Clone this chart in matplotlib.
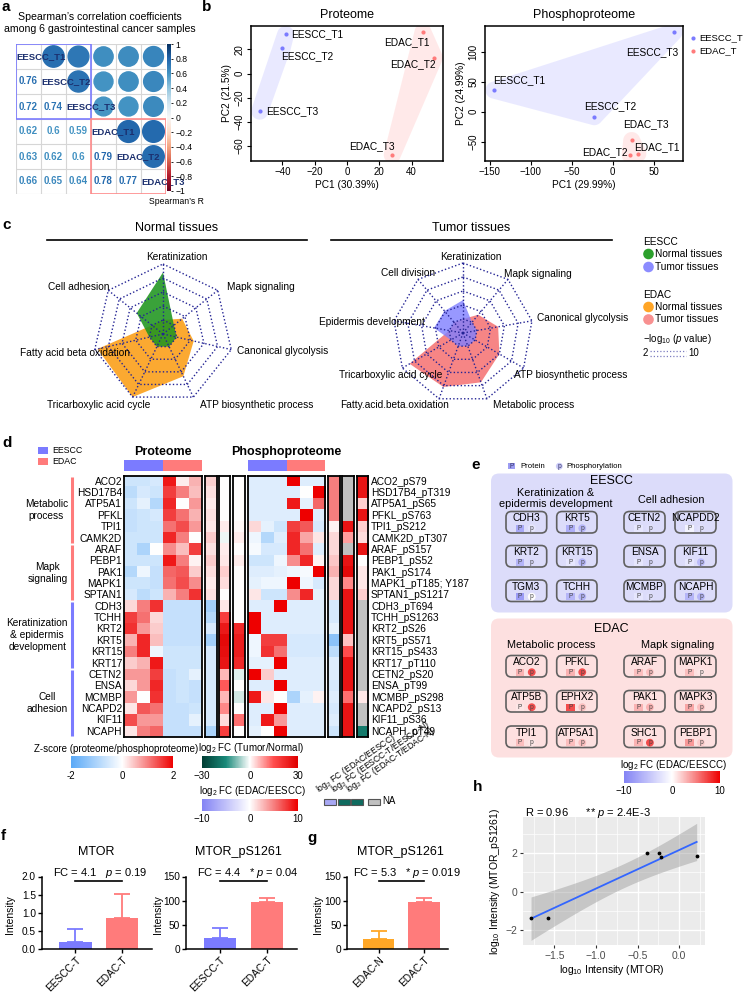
import numpy as np
import matplotlib
matplotlib.use("Agg")
import matplotlib.pyplot as plt
from matplotlib.colors import LinearSegmentedColormap, Normalize
from matplotlib.patches import Rectangle, Circle, Ellipse, Polygon, FancyBboxPatch
from matplotlib.colorbar import ColorbarBase
from matplotlib.ticker import FuncFormatter

plt.rcParams["font.family"] = ["Liberation Sans", "DejaVu Sans"]
plt.rcParams["mathtext.fontset"] = "custom"
plt.rcParams["mathtext.rm"] = "Liberation Sans"
plt.rcParams["mathtext.it"] = "Liberation Sans:italic"
plt.rcParams["mathtext.bf"] = "Liberation Sans:bold"

# ======================= DATA =======================
# --- a: Spearman correlations
samples = ["EESCC_T1", "EESCC_T2", "EESCC_T3", "EDAC_T1", "EDAC_T2", "EDAC_T3"]
corr_lower = [[0.76], [0.72, 0.74], [0.62, 0.6, 0.59],
              [0.63, 0.62, 0.6, 0.79], [0.66, 0.65, 0.64, 0.78, 0.77]]
cbar_ticks_a = [1, 0.8, 0.6, 0.4, 0.2, 0, -0.2, -0.4, -0.6, -0.8, -1]

# --- b: PCA
pca_labels = ["EESCC_T1", "EESCC_T2", "EESCC_T3", "EDAC_T1", "EDAC_T2", "EDAC_T3"]
pca_group = ["EESCC_T", "EESCC_T", "EESCC_T", "EDAC_T", "EDAC_T", "EDAC_T"]
prot_pc1 = [-38, -40, -54, 47, 54, 28]
prot_pc2 = [32.4, 21.4, -31.2, 34.3, 13.2, -67.4]
phos_pc1 = [-145, -22.4, 75, 30.8, 21.4, 23.3]
phos_pc2 = [36.2, -8.4, 133.5, -70.6, -72.4, -48.3]

# --- c: radar (-log10 p)
normal_axes = ["Keratinization", "Mapk signaling", "Canonical glycolysis",
               "ATP biosynthetic process", "Tricarboxylic acid cycle",
               "Fatty acid beta oxidation", "Cell adhesion"]
normal_eescc = [8.8, 2, 2, 2, 2, 2, 4.8]
normal_edac = [2, 3.5, 4.5, 6.7, 10, 9.6, 2]
tumor_axes = ["Keratinization", "Mapk signaling", "Canonical glycolysis",
              "ATP biosynthetic process", "Metabolic process",
              "Fatty.acid.beta.oxidation", "Tricarboxylic acid cycle",
              "Epidermis development", "Cell division"]
tumor_eescc = [4.7, 2, 2, 2, 2, 2, 2, 4.2, 4.1]
tumor_edac = [2, 3.4, 5.1, 6.0, 7.5, 8.2, 8.8, 2, 2]

# --- d: heatmap
prot_genes = ["ACO2", "HSD17B4", "ATP5A1", "PFKL", "TPI1", "CAMK2D", "ARAF", "PEBP1",
              "PAK1", "MAPK1", "SPTAN1", "CDH3", "TCHH", "KRT2", "KRT5", "KRT15", "KRT17",
              "CETN2", "ENSA", "MCMBP", "NCAPD2", "KIF11", "NCAPH"]
phos_sites = ["ACO2_pS79", "HSD17B4_pT319", "ATP5A1_pS65", "PFKL_pS763", "TPI1_pS212",
              "CAMK2D_pT307", "ARAF_pS157", "PEBP1_pS52", "PAK1_pS174", "MAPK1_pT185; Y187",
              "SPTAN1_pS1217", "CDH3_pT694", "TCHH_pS1263", "KRT2_pS26", "KRT5_pS571",
              "KRT15_pS433", "KRT17_pT110", "CETN2_pS20", "ENSA_pT99", "MCMBP_pS298",
              "NCAPD2_pS13", "KIF11_pS36", "NCAPH_pT49"]
gene_groups = [("Metabolic\nprocess", 0, 6, "EDAC"), ("Mapk\nsignaling", 6, 11, "EDAC"),
               ("Keratinization\n& epidermis\ndevelopment", 11, 17, "EESCC"),
               ("Cell\nadhesion", 17, 23, "EESCC")]
prot_z = [
    [-0.6, -0.6, -0.5, 1.8, 0.15, 0.6],
    [-0.8, -0.5, -0.6, 1.5, 1.0, 0.5],
    [-0.6, -0.3, -0.9, 1.7, 0.0, 0.8],
    [-0.7, -0.6, -0.5, 1.5, 1.1, 0.6],
    [-0.7, -0.6, -0.6, 1.1, 1.4, 0.8],
    [-0.6, -0.6, -0.6, 1.7, 1.0, 0.0],
    [-0.6, -1.0, 0.0, 0.9, 0.5, 1.5],
    [-0.6, -0.6, -0.6, 1.8, 1.0, 0.1],
    [-0.9, -0.2, -0.7, 1.2, 1.3, 0.4],
    [-0.6, -0.6, -0.7, 1.1, 1.4, 0.9],
    [-0.5, -0.8, -0.6, 0.6, 1.0, 1.6],
    [0.3, 1.0, 1.6, -0.7, -0.7, -0.7],
    [1.5, 1.1, 0.3, -0.7, -0.7, -0.7],
    [1.6, 0.8, 0.4, -0.7, -0.7, -0.7],
    [0.6, 1.7, 0.5, -0.7, -0.7, -0.7],
    [1.0, 1.7, -0.2, -0.6, -0.6, -0.6],
    [0.4, 0.6, 1.8, -0.6, -0.6, -0.6],
    [0.8, 0.8, 1.5, -0.7, -0.6, -0.3],
    [0.3, 0.8, 1.7, -0.7, -0.6, -0.7],
    [0.8, 0.0, 1.6, -0.7, -0.6, -0.7],
    [0.2, 1.3, 1.1, -0.7, -0.7, -0.6],
    [1.4, 0.8, 0.8, -0.7, -0.7, -0.3],
    [0.2, 1.0, 1.2, -0.7, -0.7, -0.7]]
phos_z = [
    [-0.4, -0.4, -0.4, 2.0, -0.4, -0.4],
    [-0.4, -0.4, -0.4, -0.4, 0.0, 2.0],
    [-0.4, -0.4, -0.4, 1.8, -0.3, 1.2],
    [-0.4, -0.4, -0.4, -0.4, 2.0, -0.4],
    [0.3, -0.3, -0.6, 1.5, 1.3, -0.5],
    [-0.2, -0.9, -0.4, 1.7, 0.7, 0.2],
    [-0.1, -0.5, -0.5, 1.7, 1.1, -0.4],
    [-0.6, -0.6, -0.2, 0.9, 1.7, 0.1],
    [-0.4, -0.4, -0.3, -0.2, -0.1, 2.0],
    [-0.3, -0.2, -0.2, 2.0, -0.2, -0.5],
    [0.2, -0.6, -0.6, 0.9, 1.7, -0.3],
    [-0.4, -0.4, 2.0, -0.4, -0.4, -0.4],
    [2.0, -0.4, -0.4, -0.4, -0.4, -0.4],
    [2.0, -0.4, -0.4, -0.4, -0.4, -0.4],
    [-0.2, 1.5, 1.5, -0.5, -0.5, -0.5],
    [-0.2, 1.6, 1.1, -0.5, -0.5, -0.5],
    [-0.3, -0.3, 2.0, -0.4, -0.4, -0.4],
    [2.0, 0.4, -0.4, -0.4, -0.4, -0.4],
    [-0.4, -0.4, 2.0, -0.4, -0.4, -0.4],
    [1.8, 0.2, 0.0, -1.0, -0.3, 0.1],
    [-0.4, -0.4, 2.0, -0.4, -0.4, -0.4],
    [-0.4, 1.8, 0.8, -0.4, -0.4, -0.4],
    [-0.3, 0.0, 2.0, -0.4, -0.4, -0.4]]
nan = float("nan")
prot_fc_edac_eescc = [1.8, 1.2, 0.8, 1.2, 1.0, 2.0, 1.2, 2.0, 1.3, 0.8, 1.2,
                      -5.5, -4.5, -2.5, -5.5, -2.5, -2.5, -2.5, -2.5, -2.5, -2.5, -2.5, -5.0]
prot_fc_eescc_tn = [0, 0, 0, 0, 1.5, -1, 1.5, 2, 4, 3, 0, 2, 18, 25, 28, 27, 26,
                    6, 14, 6, 10, 3, 18]
prot_fc_edac_tn = [0, 0, 0, 0, 0.5, 1.5, 0, 1.5, 0, 0, 0, 0, 0, 22, 24, 24, 22,
                   -2, 0, -3, 0, 12, 0]
phos_fc_edac_eescc = [5, 5, 5, 5, 0.5, 1.5, 1.5, 2.2, 3, 1.5, 1.5,
                      -2.5, -2.5, -1.5, -7, -4, -2, -2, -2.5, -2, -2.5, -2, -3]
phos_fc_eescc_tn = [nan, nan, nan, nan, 26, 8, nan, 26, 28, 10, 26, 26, 26, 26,
                    5, 15, 26, 26, 26, 12, 26, 26, 26]
phos_fc_edac_tn = [26, 26, 4, 26, 4, 3, 26, 0, 2, 2, 4, nan, nan, nan, nan, nan,
                   nan, nan, nan, 2, nan, nan, -18]

# --- e: summary boxes (log2 FC EDAC/EESCC for protein / phosphorylation)
eescc_genes = [["CDH3", "KRT5", "CETN2", "NCAPDD2"], ["KRT2", "KRT15", "ENSA", "KIF11"],
               ["TGM3", "TCHH", "MCMBP", "NCAPH"]]
eescc_prot = [[-7, -6.5, -2, -1], [-6, -2, -2, -2], [-8, -6, -2, -6]]
eescc_phos = [[-2, -6, -2.5, -2.5], [-3, -6, -3, -5.5], [0, -6, -2.5, -6]]
edac_genes = [["ACO2", "PFKL", "ARAF", "MAPK1"], ["ATP5B", "EPHX2", "PAK1", "MAPK3"],
              ["TPI1", "ATP5A1", "SHC1", "PEBP1"]]
edac_prot = [[3, 3, 2.5, 2.5], [1, 7, 3, 3.5], [2.5, 2.5, 3, 4]]
edac_phos = [[7, 7, 2.5, 1], [7, 2.5, 3, 2.5], [1, 2.5, 7, 2]]

# --- f, g: bar charts
bar_cats_f = ["EESCC-T", "EDAC-T"]
mtor_mean = [0.21, 0.87]
mtor_err = [0.34, 0.66]
ps_f_mean = [22.7, 97]
ps_f_err = [20.7, 8]
bar_cats_g = ["EDAC-N", "EDAC-T"]
ps_g_mean = [20.8, 97]
ps_g_err = [15.9, 8]

# --- h: correlation
mtor_log10 = [-1.78, -1.58, -0.39, -0.24, -0.22, 0.21]
ps_log10 = [-1.37, -1.37, 2.03, 2.03, 1.79, 1.85]

# ======================= STYLE =======================
C_EESCC = "#7b7bff"
C_EDAC = "#ff7b7b"
C_NAVY = "#1b2f6e"
W, H = 751, 993
fig = plt.figure(figsize=(W / 100, H / 100), dpi=100)


def add_ax(x0, y0, x1, y1, **kw):
    return fig.add_axes([x0 / W, 1 - y1 / H, (x1 - x0) / W, (y1 - y0) / H], **kw)


ov = add_ax(0, 0, W, H)
ov.set_xlim(0, W)
ov.set_ylim(H, 0)
ov.axis("off")
ov.set_zorder(20)


def T(x, y, s, **kw):
    kw.setdefault("fontsize", 7.3)
    kw.setdefault("ha", "center")
    kw.setdefault("va", "center")
    return ov.text(x, y, s, **kw)


def umin(v, fmt="{:g}"):
    return fmt.format(v).replace("-", "\u2212")


# panel letters
for s, x, y in [("a", 1, 7), ("b", 202, 7), ("c", 2, 225), ("d", 2, 443),
                ("e", 471, 465), ("f", 1, 836), ("g", 307, 838), ("h", 473, 787)]:
    T(x, y, s, fontsize=11, fontweight="bold", ha="left")

# ======================= PANEL A =======================
n = len(samples)
C = np.eye(n)
for i, row in enumerate(corr_lower):
    for j, v in enumerate(row):
        C[i + 1, j] = v
        C[j, i + 1] = v
rdbu = plt.get_cmap("RdBu")
axa = add_ax(16, 44, 166, 194)
axa.set_xlim(0, n)
axa.set_ylim(n, 0)
axa.axis("off")
for k in range(n + 1):
    axa.plot([0, n], [k, k], color="#d6d6d6", lw=0.8, zorder=1)
    axa.plot([k, k], [0, n], color="#d6d6d6", lw=0.8, zorder=1)
for i in range(n):
    for j in range(n):
        col = rdbu((C[i, j] + 1) / 2)
        if j > i:
            d = np.sqrt(abs(C[i, j])) * 0.98
            axa.add_patch(Ellipse((j + 0.5, i + 0.5), d, d, color=col, zorder=2))
        elif j < i:
            axa.text(j + 0.5, i + 0.5, "{:g}".format(C[i, j]), color=col, fontsize=7,
                     fontweight="bold", ha="center", va="center")
for i in range(n):
    axa.text(i + 0.02, i + 0.5, samples[i], color=C_NAVY, fontsize=6.8, fontweight="bold",
             ha="left", va="center", zorder=5, clip_on=False)
axa.add_patch(Rectangle((0, 0), 3, 3, fill=False, ec=C_EESCC, lw=1.2, zorder=4))
axa.add_patch(Rectangle((3, 3), 3, 3, fill=False, ec="#ff8a8a", lw=1.2, zorder=4))
axcb = add_ax(166.5, 44, 171, 191)
axcb.set_zorder(6)
cb = ColorbarBase(axcb, cmap=rdbu, norm=Normalize(-1, 1), orientation="vertical")
cb.outline.set_visible(False)
cb.set_ticks(cbar_ticks_a)
cb.ax.set_yticklabels([umin(v) for v in cbar_ticks_a])
cb.ax.tick_params(labelsize=6.2, length=1.5, width=0.6, pad=1.5)
T(100, 16.5, "Spearman\u2019s correlation coefficients", fontsize=7.6)
T(100, 29.5, "among 6 gastrointestinal cancer samples", fontsize=7.6)
T(176, 202, "Spearman\u2019s R", fontsize=6.2)

# ======================= PANEL B =======================
def convex_hull(P):
    P = sorted(map(tuple, P))

    def cross(o, a, b):
        return (a[0] - o[0]) * (b[1] - o[1]) - (a[1] - o[1]) * (b[0] - o[0])
    lower, upper = [], []
    for p in P:
        while len(lower) >= 2 and cross(lower[-2], lower[-1], p) <= 0:
            lower.pop()
        lower.append(p)
    for p in reversed(P):
        while len(upper) >= 2 and cross(upper[-2], upper[-1], p) <= 0:
            upper.pop()
        upper.append(p)
    return np.array(lower[:-1] + upper[:-1])


def rounded_hull(ax, xs, ys, r_px):
    pts = ax.transData.transform(np.column_stack([xs, ys]))
    ang = np.linspace(0, 2 * np.pi, 40, endpoint=False)
    cloud = np.vstack([p + r_px * np.column_stack([np.cos(ang), np.sin(ang)]) for p in pts])
    return ax.transData.inverted().transform(convex_hull(cloud))


def pca_panel(rect, xs, ys, title, xlabel, ylabel, xticks, yticks, offsets, title_x):
    ax = add_ax(*rect)
    xs = np.array(xs, float)
    ys = np.array(ys, float)
    rx = xs.max() - xs.min()
    ry = ys.max() - ys.min()
    ax.set_xlim(xs.min() - 0.05 * rx, xs.max() + 0.05 * rx)
    ax.set_ylim(ys.min() - 0.05 * ry, ys.max() + 0.05 * ry)
    grp = np.array(pca_group)
    for g, col in [("EESCC_T", C_EESCC), ("EDAC_T", C_EDAC)]:
        m = grp == g
        hull = rounded_hull(ax, xs[m], ys[m], 8.5)
        ax.add_patch(Polygon(hull, closed=True, fc=col, alpha=0.16, ec="none", zorder=1))
        ax.scatter(xs[m], ys[m], s=9, color=col, zorder=3, lw=0)
    for k, lab in enumerate(pca_labels):
        dx, dy, ha = offsets[k]
        ax.annotate(lab, (xs[k], ys[k]), xytext=(dx, dy), textcoords="offset pixels",
                    ha=ha, va="center", fontsize=7.3, zorder=4)
    ax.set_xticks(xticks)
    ax.set_yticks(yticks)
    ax.xaxis.set_major_formatter(FuncFormatter(lambda v, p: umin(v)))
    ax.yaxis.set_major_formatter(FuncFormatter(lambda v, p: umin(v)))
    ax.tick_params(labelsize=7, length=3, width=0.8, pad=1.5)
    for lab in ax.get_yticklabels():
        lab.set_rotation(90)
        lab.set_va("center")
    for s in ax.spines.values():
        s.set_linewidth(1.1)
    ax.set_xlabel(xlabel, fontsize=7.3, labelpad=2)
    ax.set_ylabel(ylabel, fontsize=7.3, labelpad=2)
    T(title_x, 15, title, fontsize=9)
    return ax


pca_panel((251, 26, 443, 161), prot_pc1, prot_pc2, "Proteome", "PC1 (30.39%)",
          "PC2 (21.5%)", [-40, -20, 0, 20, 40], [-60, -40, -20, 0, 20],
          [(6, 0, "left"), (-1, -8, "left"), (6, 0, "left"),
           (7, -10, "right"), (1, -7, "right"), (2, 9, "right")], 347)
pca_panel((485, 26, 683, 161), phos_pc1, phos_pc2, "Phosphoproteome", "PC1 (29.99%)",
          "PC2 (24.99%)", [-150, -100, -50, 0, 50], [-50, 0, 50, 100],
          [(-1, 10, "left"), (16, 11, "center"), (4, -20, "right"),
           (-4, 7, "left"), (-3, 3, "right"), (14, 16, "center")], 584)
for g, col, y in [("EESCC_T", C_EESCC, 38), ("EDAC_T", C_EDAC, 51)]:
    ov.scatter([693], [y], s=9, color=col, lw=0)
    T(699, y, g, fontsize=6.8, ha="left")

# ======================= PANEL C =======================
NAVY_DOT = "#232394"


def radar(cx, cy, R, axes_names, series, label_pos):
    ax = add_ax(cx - 1.3 * R, cy - 1.3 * R, cx + 1.3 * R, cy + 1.3 * R)
    ax.set_xlim(-1.3, 1.3)
    ax.set_ylim(-1.3, 1.3)
    ax.axis("off")
    k = len(axes_names)
    th = np.pi / 2 - 2 * np.pi * np.arange(k) / k
    for vals, col, a in series:
        r = np.array(vals) / 10.0
        ax.add_patch(Polygon(np.column_stack([r * np.cos(th), r * np.sin(th)]),
                             closed=True, fc=col, alpha=a, ec="none", zorder=2))
    for i in range(1, 6):
        rr = i / 5
        xs = np.append(rr * np.cos(th), rr * np.cos(th[0]))
        ys = np.append(rr * np.sin(th), rr * np.sin(th[0]))
        ax.plot(xs, ys, color=NAVY_DOT, lw=1.0, ls=(0, (1, 1.6)), zorder=3)
    for t in th:
        ax.plot([0, np.cos(t)], [0, np.sin(t)], color=NAVY_DOT, lw=1.0,
                ls=(0, (1, 1.6)), zorder=3)
    for name, (x, y) in zip(axes_names, label_pos):
        T(x, y, name)


radar(163, 334, 70, normal_axes,
      [(normal_edac, "#fba21f", 0.92), (normal_eescc, "#1f951f", 0.88)],
      [(176.7, 256.7), (261, 287.3), (282.5, 350.7), (257, 405), (99, 405),
       (74.5, 353), (78.5, 287.3)])
radar(463, 333, 70, tumor_axes,
      [(tumor_edac, "#f57878", 0.9), (tumor_eescc, "#7f7fff", 0.8)],
      [(471.3, 256.7), (538, 274.3), (582.5, 318.3), (571, 375), (533.6, 405),
       (395, 405), (391, 375), (372, 321.7), (408, 273)])
T(177, 228, "Normal tissues", fontsize=9)
ov.plot([47, 307], [239.5, 239.5], color="black", lw=1.2)
T(471, 228, "Tumor tissues", fontsize=9)
ov.plot([331, 612], [239.5, 239.5], color="black", lw=1.2)
T(643, 242, "EESCC", ha="left")
T(643, 295, "EDAC", ha="left")
for y, col, lab in [(254, "#2ca02c", "Normal tissues"), (267, "#8c8cff", "Tumor tissues"),
                    (307, "#ffa526", "Normal tissues"), (319.5, "#f89090", "Tumor tissues")]:
    ov.add_patch(Circle((648.5, y), 4.6, color=col))
    T(655, y, lab, ha="left")
T(643, 339, "\u2212log$_{10}$ ($p$ value)", ha="left", fontsize=7)
T(643, 353, "2", ha="left", fontsize=7)
T(688, 353, "10", ha="left", fontsize=7)
for yy in (350.5, 355.5):
    ov.plot([650, 686], [yy, yy], color="#7d7dc0", lw=0.9, ls=(0, (1, 1.6)))

# ======================= PANEL D =======================
HT, HB = 476.0, 737.4
NR = len(prot_genes)
RH = (HB - HT) / NR
zcmap = LinearSegmentedColormap.from_list("z", ["#5aa9f7", "#ffffff", "#ee0000"])
fcheat = LinearSegmentedColormap.from_list("fch", ["#5aa9f7", "#ffffff", "#ee0000"]).with_extremes(bad="#c0c0c0")
tncmap = LinearSegmentedColormap.from_list(
    "tn", ["#003d33", "#1a8a7a", "#ffffff", "#ff4d4d", "#e00000"]).with_extremes(bad="#c0c0c0")
fclav = LinearSegmentedColormap.from_list("fcl", ["#8383f4", "#ffffff", "#ee0000"])


def heat(x0, x1, data, cmap, norm):
    ax = add_ax(x0, HT, x1, HB)
    arr = np.array(data, float)
    if arr.ndim == 1:
        arr = arr[:, None]
    ax.imshow(np.ma.masked_invalid(arr), cmap=cmap, norm=norm, aspect="auto",
              interpolation="nearest")
    ax.set_xticks([])
    ax.set_yticks([])
    for s in ax.spines.values():
        s.set_linewidth(1.3)
    return ax


heat(124.3, 202.0, prot_z, zcmap, Normalize(-2, 2))
heat(205.0, 216.7, prot_fc_edac_eescc, fcheat, Normalize(-10, 10))
heat(219.3, 230.5, prot_fc_eescc_tn, tncmap, Normalize(-30, 30))
heat(233.3, 244.5, prot_fc_edac_tn, tncmap, Normalize(-30, 30))
heat(247.7, 325.3, phos_z, zcmap, Normalize(-2, 2))
heat(328.3, 340.0, phos_fc_edac_eescc, fcheat, Normalize(-10, 10))
heat(342.3, 354.3, phos_fc_eescc_tn, tncmap, Normalize(-30, 30))
heat(356.7, 368.3, phos_fc_edac_tn, tncmap, Normalize(-30, 30))
for i, (g, s) in enumerate(zip(prot_genes, phos_sites)):
    y = HT + (i + 0.5) * RH
    T(122, y, g, ha="right")
    T(371, y, s, ha="left")
for lab, r0, r1, grp in gene_groups:
    col = C_EDAC if grp == "EDAC" else C_EESCC
    ov.plot([71.7, 71.7], [HT + r0 * RH + 1, HT + r1 * RH - 1], color=col, lw=2.2,
            solid_capstyle="butt")
    T(68, HT + (r0 + r1) / 2 * RH, lab, ha="right", multialignment="center",
      linespacing=1.25)
# header
T(163, 452, "Proteome", fontsize=9, fontweight="bold")
T(286.5, 452, "Phosphoproteome", fontsize=9, fontweight="bold")
for x0, x1 in [(124.3, 202.0), (247.7, 325.3)]:
    xm = (x0 + x1) / 2
    ov.add_patch(Rectangle((x0, 459.5), xm - x0, 11.5, color=C_EESCC, lw=0))
    ov.add_patch(Rectangle((xm, 459.5), x1 - xm, 11.5, color=C_EDAC, lw=0))
ov.add_patch(Rectangle((38.3, 447.3), 10, 6.5, color=C_EESCC, lw=0))
ov.add_patch(Rectangle((38.3, 458.3), 10, 6.5, color=C_EDAC, lw=0))
T(52, 450.5, "EESCC", ha="left", fontsize=6.3)
T(52, 461.5, "EDAC", ha="left", fontsize=6.3)


def hbar(x0, y0, x1, y1, cmap, vmin, vmax, ticks, labels):
    ax = add_ax(x0, y0, x1, y1)
    cbh = ColorbarBase(ax, cmap=cmap, norm=Normalize(vmin, vmax), orientation="horizontal")
    cbh.outline.set_visible(False)
    cbh.set_ticks(ticks)
    cbh.ax.set_xticklabels(labels)
    cbh.ax.tick_params(labelsize=7, length=0, pad=2)
    return cbh


hbar(71, 756, 173.3, 768.3, zcmap, -2, 2, [-2, 0, 2], ["-2", "0", "2"])
T(116.5, 749, "Z-score (proteome/phosphoproteome)", fontsize=7)
hbar(202, 756, 297.7, 768.3, tncmap, -30, 30, [-30, 0, 30], ["\u221230", "0", "30"])
T(251, 748, "log$_2$ FC (Tumor/Normal)", fontsize=7)
hbar(202, 798.5, 297.7, 811, fclav, -10, 10, [-10, 0, 10], ["\u221210", "0", "10"])
T(252.5, 791.5, "log$_2$ FC (EDAC/EESCC)", fontsize=7)
for x0, txt in [(321, "log$_2$ FC (EDAC/EESCC)"), (336, "log$_2$ FC (EESCC-T/EESCC-N)"),
                (351, "log$_2$ FC (EDAC-T/EDAC-N)")]:
    ov.text(x0, 796, txt, rotation=35, rotation_mode="anchor", ha="left", va="bottom",
            fontsize=6.2)
for x0, col in [(324, "#a8a8f4"), (338, "#0f6b5f"), (351, "#0f6b5f"), (368, "#c0c0c0")]:
    ov.add_patch(Rectangle((x0, 798.5), 11.5, 6.5, fc=col, ec="#555555", lw=0.8))
T(382.5, 801.5, "NA", ha="left", fontsize=7)

# ======================= PANEL E =======================
enorm = Normalize(-10, 10)
ov.add_patch(Rectangle((507.7, 462.8), 7.3, 6.6, color="#9c9cf2", lw=0))
T(511.3, 466.2, "P", fontsize=4.8, color="#333366")
T(520, 466.2, "Protein", fontsize=5.6, ha="left")
ov.add_patch(Circle((559.3, 466.2), 3.4, color="#c9c9f6", lw=0))
T(559.3, 466.2, "p", fontsize=4.8, color="#333366")
T(566, 466.2, "Phosphorylation", fontsize=5.6, ha="left")

col_x = [(506, 546.7), (556.7, 597), (624, 665), (675, 716)]


def summary_box(y0, y1, bg, title, title_y, subtitles, genes, pvals, phvals, row_tops):
    ov.add_patch(FancyBboxPatch((491, y0), 241.5, y1 - y0,
                                boxstyle="round,pad=0,rounding_size=8", fc=bg, ec="none"))
    T(611.5, title_y, title, fontsize=9)
    for txt, x, y in subtitles:
        T(x, y, txt, fontsize=7.8, multialignment="center", linespacing=1.05)
    for r, top in enumerate(row_tops):
        for c, (xa, xb) in enumerate(col_x):
            cx = (xa + xb) / 2
            ov.add_patch(FancyBboxPatch((xa, top), xb - xa, 21.5,
                                        boxstyle="round,pad=0,rounding_size=5.5",
                                        fc="none", ec="#606060", lw=1.2))
            T(cx, top + 6.5, genes[r][c], fontsize=7.3)
            pc = fclav(enorm(pvals[r][c]))
            ov.add_patch(Rectangle((cx - 10.5, top + 13.2), 8.6, 7.0, color=pc, lw=0))
            T(cx - 6.2, top + 16.7, "P", fontsize=4.8, color="#444444")
            qc = fclav(enorm(phvals[r][c]))
            ov.add_patch(Circle((cx + 5.4, top + 16.7), 3.9, color=qc, lw=0))
            T(cx + 5.4, top + 16.7, "p", fontsize=4.8, color="#444444")


summary_box(473.5, 612.5, "#dcdcfa", "EESCC", 481.5,
            [("Keratinization &\nepidermis development", 556, 498.5), ("Cell adhesion", 671.5, 500)],
            eescc_genes, eescc_prot, eescc_phos, [511.5, 545.5, 580])
summary_box(618.5, 757.5, "#fde0e0", "EDAC", 629.5,
            [("Metabolic process", 551.5, 645.5), ("Mapk signaling", 677.5, 645.5)],
            edac_genes, edac_prot, edac_phos, [655.5, 690.5, 726])
cbe = add_ax(624, 770.7, 720, 783.3)
cbx = ColorbarBase(cbe, cmap=fclav, norm=enorm, orientation="horizontal")
cbx.outline.set_visible(False)
cbx.set_ticks([-10, 0, 10])
cbx.ax.set_xticklabels(["\u221210", "0", "10"])
cbx.ax.tick_params(labelsize=7, length=0, pad=2)
T(673, 764.5, "log$_2$ FC (EDAC/EESCC)", fontsize=7)

# ======================= PANELS F, G =======================
def bar_panel(x0, x1, cats, means, errs, colors, ylim, yticks, fmt, xlim, sig_y,
              title, title_x, fctext, fc_x, ylab_x):
    ax = add_ax(x0, 876.5, x1, 949.3)
    xs = np.arange(len(cats))
    ax.bar(xs, means, width=0.69, color=colors, zorder=2)
    for xi, m, e, c in zip(xs, means, errs, colors):
        ax.errorbar([xi], [m], yerr=[[0], [e]], color=c, capsize=5.5, lw=1.3,
                    capthick=1.3, zorder=1)
    ax.set_ylim(*ylim)
    ax.set_xlim(*xlim)
    ax.set_yticks(yticks)
    ax.yaxis.set_major_formatter(FuncFormatter(lambda v, p: fmt.format(v)))
    ax.set_xticks(xs)
    ax.set_xticklabels(cats, rotation=45, ha="right", rotation_mode="anchor")
    ax.tick_params(labelsize=7.3, length=3, width=1, pad=1.2)
    for s in ("top", "right"):
        ax.spines[s].set_visible(False)
    for s in ("left", "bottom"):
        ax.spines[s].set_linewidth(1.1)
    ax.plot([0, 1], [sig_y, sig_y], color="black", lw=1.2, clip_on=False)
    T(title_x, 851.7, title, fontsize=9)
    T(fc_x, 872.7, fctext, fontsize=8)
    T(ylab_x, 915, "Intensity", fontsize=7.5, rotation=90)


bar_panel(41.7, 151.7, bar_cats_f, mtor_mean, mtor_err, [C_EESCC, C_EDAC], (0, 2),
          [0, 0.5, 1, 1.5, 2], "{:.1f}", (-0.72, 1.63), 1.87, "MTOR", 96,
          "FC = 4.1   $p$ = 0.19", 100, 10)
bar_panel(186, 296.7, bar_cats_f, ps_f_mean, ps_f_err, [C_EESCC, C_EDAC], (0, 150),
          [0, 50, 100, 150], "{:.0f}", (-0.73, 1.64), 141.5, "MTOR_pS1261", 238.3,
          "FC = 4.4   * $p$ = 0.04", 248, 158.3)
bar_panel(347.3, 448.3, bar_cats_g, ps_g_mean, ps_g_err, ["#ffa726", C_EDAC], (0, 150),
          [0, 50, 100, 150], "{:.0f}", (-0.69, 1.53), 141.5, "MTOR_pS1261", 400,
          "FC = 5.3   * $p$ = 0.019", 406.7, 318.3)

# ======================= PANEL H =======================
axh = add_ax(522.7, 816.7, 705, 945)
axh.set_facecolor("#ebebeb")
x = np.array(mtor_log10)
y = np.array(ps_log10)
slope, icpt = np.polyfit(x, y, 1)
xx = np.linspace(x.min(), x.max(), 100)
yfit = slope * xx + icpt
nn = len(x)
resid = y - (slope * x + icpt)
s_err = np.sqrt(np.sum(resid ** 2) / (nn - 2))
sxx = np.sum((x - x.mean()) ** 2)
se = s_err * np.sqrt(1 / nn + (xx - x.mean()) ** 2 / sxx)
t_crit = 2.776  # t(0.975, df=4)
axh.fill_between(xx, yfit - t_crit * se, yfit + t_crit * se, color="#999999", alpha=0.45,
                 lw=0, zorder=2)
axh.plot(xx, yfit, color="#3366ff", lw=1.3, zorder=3)
axh.scatter(x, y, s=3, color="black", zorder=4)
axh.set_xlim(-1.88, 0.31)
axh.set_ylim(-2.78, 3.9)
axh.set_xticks([-1.5, -1.0, -0.5, 0.0])
axh.set_xticks([-1.75, -1.25, -0.75, -0.25, 0.25], minor=True)
axh.set_yticks([-2, 0, 2])
axh.set_yticks([-1, 1, 3], minor=True)
axh.xaxis.set_major_formatter(FuncFormatter(lambda v, p: umin(v, "{:.1f}")))
axh.yaxis.set_major_formatter(FuncFormatter(lambda v, p: umin(v, "{:.0f}")))
axh.grid(which="major", color="white", lw=1.0)
axh.grid(which="minor", color="white", lw=0.5)
axh.set_axisbelow(True)
for s in axh.spines.values():
    s.set_visible(False)
axh.tick_params(which="major", labelsize=7.5, length=2.5, color="#333333",
                labelcolor="#4d4d4d", pad=1.5)
axh.tick_params(which="minor", length=0)
T(525, 812.5, "R = 0.96      ** $p$ = 2.4E-3", fontsize=8, ha="left")
T(612, 970, "log$_{10}$ Intensity (MTOR)", fontsize=7.5)
T(495, 881, "log$_{10}$ Intensity (MTOR_pS1261)", fontsize=7.5, rotation=90)

fig.savefig("out.png", dpi=100)
